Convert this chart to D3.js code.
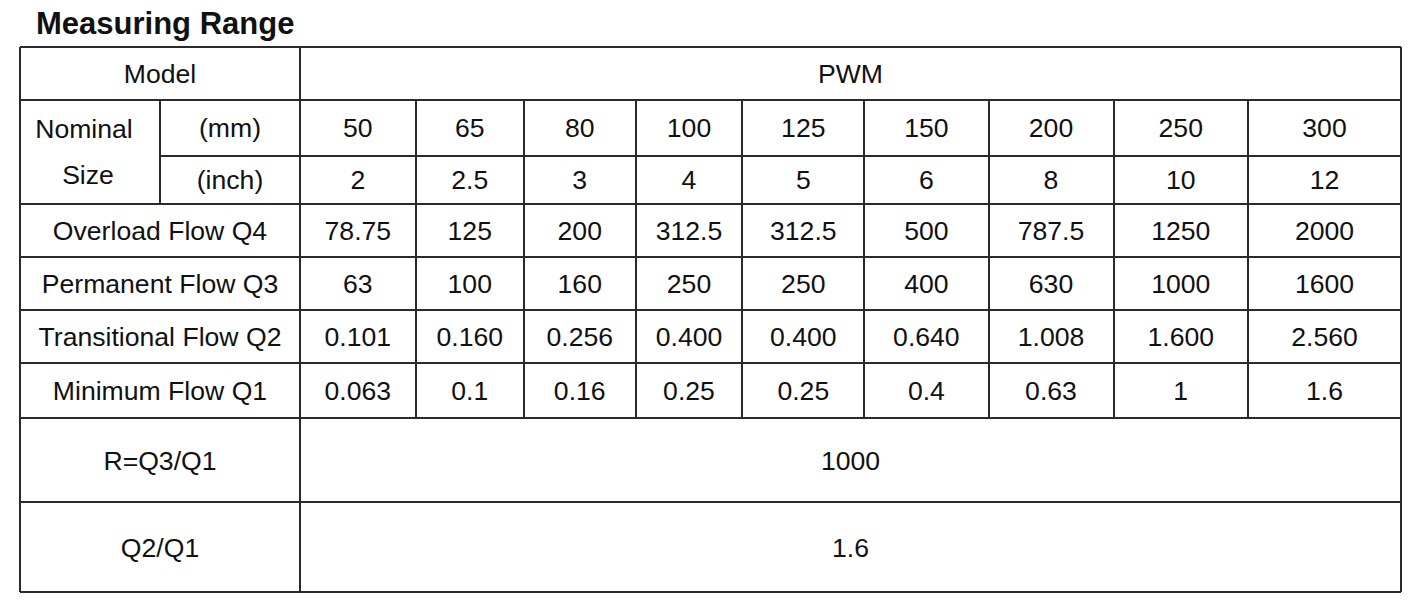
<!DOCTYPE html>
<html>
<head>
<meta charset="utf-8">
<script src="https://cdn.jsdelivr.net/npm/d3@7"></script>
<style>
  body { margin: 0; background: #fff; }
  text { font-family: "Liberation Sans", Arial, sans-serif; fill: #111; }
</style>
</head>
<body>
<script>
// table contents
var model = "PWM";
var sizeMm = ["50", "65", "80", "100", "125", "150", "200", "250", "300"];
var sizeInch = ["2", "2.5", "3", "4", "5", "6", "8", "10", "12"];
var q4 = ["78.75", "125", "200", "312.5", "312.5", "500", "787.5", "1250", "2000"];
var q3 = ["63", "100", "160", "250", "250", "400", "630", "1000", "1600"];
var q2 = ["0.101", "0.160", "0.256", "0.400", "0.400", "0.640", "1.008", "1.600", "2.560"];
var q1 = ["0.063", "0.1", "0.16", "0.25", "0.25", "0.4", "0.63", "1", "1.6"];
var flowLabels = ["Overload Flow Q4", "Permanent Flow Q3", "Transitional Flow Q2", "Minimum Flow Q1"];
var ratioR = "1000";
var ratioQ2Q1 = "1.6";

var w = 1418;
var h = 604;
var fs = 26.6;

// grid edges (layout)
var colEdges = [300, 415.7, 523.8, 635.7, 742.3, 864.3, 988.5, 1113.5, 1248, 1401];
var rowEdges = [46.5, 100, 155.7, 203.5, 256.7, 310, 362.7, 418, 502.3, 592];
var left = 20, mid = 160;

var x = d3.scaleLinear().domain(d3.range(colEdges.length)).range(colEdges);
var y = d3.scaleLinear().domain(d3.range(rowEdges.length)).range(rowEdges);

var svg = d3.select("body")
	.append("svg")
	.attr("width", w)
	.attr("height", h);

svg.append("text")
	.attr("x", 36)
	.attr("y", 34)
	.attr("font-size", "31px")
	.attr("font-weight", "bold")
	.text("Measuring Range");

var grid = svg.append("g")
	.attr("stroke", "#2a2a2a")
	.attr("stroke-width", 2)
	.attr("shape-rendering", "crispEdges");

// horizontal lines
var hl = d3.range(rowEdges.length).map(function(r) {
	return { x1: r === 2 ? mid : left, x2: x(9), r: r };
});
grid.selectAll("line.h")
	.data(hl)
	.enter()
	.append("line")
	.attr("class", "h")
	.attr("x1", function(d) { return d.x1; })
	.attr("x2", function(d) { return d.x2; })
	.attr("y1", function(d) { return y(d.r); })
	.attr("y2", function(d) { return y(d.r); });

// vertical lines
var vl = [
	{ xx: left, r1: 0, r2: 9 },
	{ xx: mid, r1: 1, r2: 3 },
	{ xx: x(9), r1: 0, r2: 9 }
];
d3.range(0, 9).forEach(function(i) {
	vl.push({ xx: x(i), r1: i === 0 ? 0 : 1, r2: i === 0 ? 9 : 7 });
});
grid.selectAll("line.v")
	.data(vl)
	.enter()
	.append("line")
	.attr("class", "v")
	.attr("x1", function(d) { return d.xx; })
	.attr("x2", function(d) { return d.xx; })
	.attr("y1", function(d) { return y(d.r1); })
	.attr("y2", function(d) { return y(d.r2); });

function cellText(cx, r0, r1, txt) {
	svg.append("text")
		.attr("x", cx)
		.attr("y", (y(r0) + y(r1)) / 2 + fs * 0.36)
		.attr("text-anchor", "middle")
		.attr("font-size", fs + "px")
		.text(txt);
}

// header cells
cellText((left + x(0)) / 2, 0, 1, "Model");
cellText((x(0) + x(9)) / 2, 0, 1, model);

svg.append("text").attr("x", 84).attr("y", 137.5)
	.attr("text-anchor", "middle").attr("font-size", fs + "px").text("Nominal");
svg.append("text").attr("x", 88).attr("y", 183.5)
	.attr("text-anchor", "middle").attr("font-size", fs + "px").text("Size");
cellText((mid + x(0)) / 2, 1, 2, "(mm)");
cellText((mid + x(0)) / 2, 2, 3, "(inch)");

flowLabels.forEach(function(lbl, i) {
	cellText((left + x(0)) / 2, 3 + i, 4 + i, lbl);
});

var rows = [sizeMm, sizeInch, q4, q3, q2, q1];
rows.forEach(function(vals, r) {
	svg.append("g").selectAll("text")
		.data(vals)
		.enter()
		.append("text")
		.attr("x", function(d, i) { return (x(i) + x(i + 1)) / 2; })
		.attr("y", (y(r + 1) + y(r + 2)) / 2 + fs * 0.36)
		.attr("text-anchor", "middle")
		.attr("font-size", fs + "px")
		.text(function(d) { return d; });
});

cellText((left + x(0)) / 2, 7, 8, "R=Q3/Q1");
cellText((x(0) + x(9)) / 2, 7, 8, ratioR);
cellText((left + x(0)) / 2, 8, 9, "Q2/Q1");
cellText((x(0) + x(9)) / 2, 8, 9, ratioQ2Q1);
</script>
</body>
</html>
